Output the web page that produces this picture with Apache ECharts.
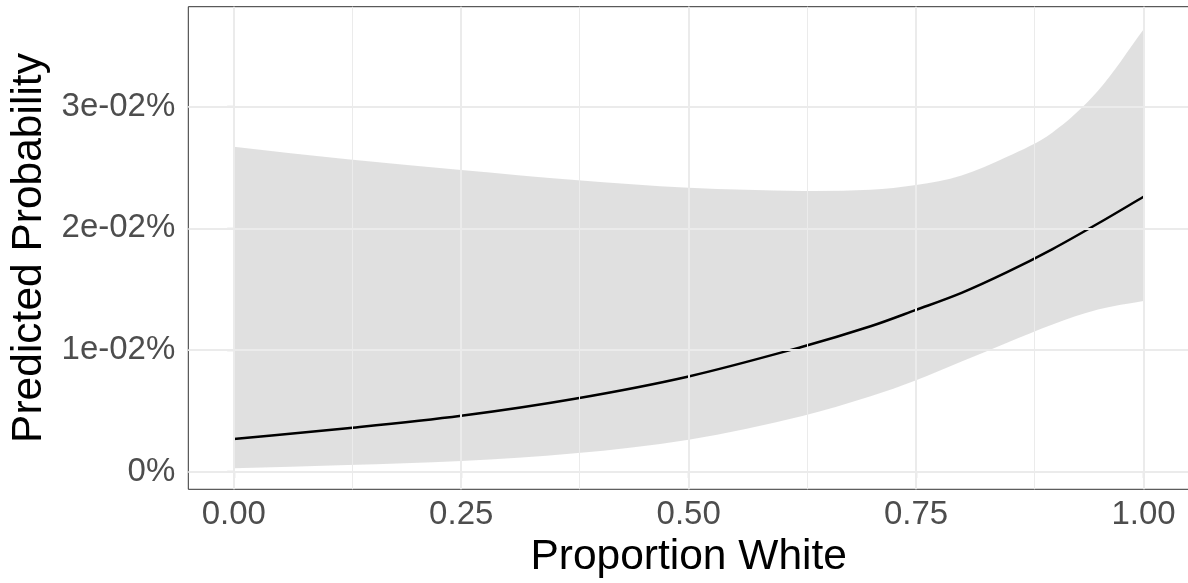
<!DOCTYPE html>
<html>
<head>
<meta charset="utf-8">
<script src="https://cdn.jsdelivr.net/npm/echarts@6/dist/echarts.min.js"></script>
<style>
  html, body { margin: 0; padding: 0; background: #fff; }
  #chart { width: 1188px; height: 583px; }
</style>
</head>
<body>
<div id="chart"></div>
<script>
// proportion white (x) and predicted probability in percent (y)
const propWhite = [0, 0.125, 0.25, 0.375, 0.5, 0.625, 0.7, 0.75, 0.8, 0.85, 0.9, 0.95, 1.0];
const predicted = [0.00269, 0.00357, 0.00460, 0.00600, 0.00783, 0.01027, 0.01195, 0.01330, 0.01470, 0.01640, 0.01830, 0.02040, 0.02260];
const lowerCI   = [0.00028, 0.00055, 0.00088, 0.00151, 0.00263, 0.00458, 0.00620, 0.00752, 0.00905, 0.01060, 0.01210, 0.01333, 0.01403];
const upperCI   = [0.02671, 0.02568, 0.02480, 0.02397, 0.02333, 0.02307, 0.02318, 0.02356, 0.02435, 0.02589, 0.02789, 0.03131, 0.03635];

const xBreaks = [0, 0.25, 0.5, 0.75, 1];
const xMinorBreaks = [0.125, 0.375, 0.625, 0.875];
const yBreaks = [0, 0.01, 0.02, 0.03];
const yMinorBreaks = [0.005, 0.015, 0.025, 0.035];

const fmtY = v => {
  if (Math.abs(v) < 1e-12) return '0%';
  const e = Math.floor(Math.log10(Math.abs(v)) + 1e-9);
  const m = Math.round(v / Math.pow(10, e));
  return m + 'e' + (e < 0 ? '-' : '+') + String(Math.abs(e)).padStart(2, '0') + '%';
};

const majorLine = { color: '#EBEBEB', width: 2, type: 'solid' };
const minorLine = { color: '#EBEBEB', width: 1, type: 'solid' };

const gridLines = [
  ...yMinorBreaks.map(v => ({ yAxis: v, lineStyle: minorLine })),
  ...xMinorBreaks.map(v => ({ xAxis: v, lineStyle: minorLine })),
  ...yBreaks.map(v => ({ yAxis: v, lineStyle: majorLine })),
  ...xBreaks.map(v => ({ xAxis: v, lineStyle: majorLine }))
];

// cubic hermite through pixel points (slopes from neighbours, in x)
const hermitePath = (pts, move) => {
  const n = pts.length;
  const slope = i => {
    const a = pts[Math.max(i - 1, 0)], b = pts[Math.min(i + 1, n - 1)];
    return (b[1] - a[1]) / (b[0] - a[0]);
  };
  let d = (move ? 'M' : 'L') + pts[0][0] + ',' + pts[0][1];
  for (let i = 0; i < n - 1; i++) {
    const p1 = pts[i], p2 = pts[i + 1];
    const h = (p2[0] - p1[0]) / 3;
    const c1 = [p1[0] + h, p1[1] + slope(i) * h];
    const c2 = [p2[0] - h, p2[1] - slope(i + 1) * h];
    d += `C${c1[0]},${c1[1]} ${c2[0]},${c2[1]} ${p2[0]},${p2[1]}`;
  }
  return d;
};

const renderRibbon = (params, api) => {
  if (params.dataIndex !== 0) return;
  const up = propWhite.map((x, i) => api.coord([x, upperCI[i]]));
  const lo = propWhite.map((x, i) => api.coord([x, lowerCI[i]])).reverse();
  return {
    type: 'path',
    shape: { pathData: hermitePath(up, true) + hermitePath(lo, false) + 'Z' },
    style: { fill: 'rgba(153,153,153,0.3)', stroke: null }
  };
};

const renderLine = (params, api) => {
  if (params.dataIndex !== 0) return;
  const pts = propWhite.map((x, i) => api.coord([x, predicted[i]]));
  return {
    type: 'path',
    shape: { pathData: hermitePath(pts, true) },
    style: { fill: null, stroke: '#000', lineWidth: 2.5, lineCap: 'butt', lineJoin: 'round' }
  };
};

const chart = echarts.init(document.getElementById('chart'), null, { renderer: 'canvas' });

chart.setOption({
  animation: false,
  textStyle: { fontFamily: 'Liberation Sans, Arial, sans-serif' },
  grid: {
    left: 188.3, top: 6.7, width: 1000.7, height: 482.6,
    containLabel: false, outerBoundsMode: 'none',
    show: true, borderColor: '#333333', borderWidth: 1, backgroundColor: 'transparent'
  },
  xAxis: {
    type: 'value',
    min: -0.05, max: 1.05,
    name: 'Proportion White',
    nameLocation: 'middle',
    nameGap: 43,
    nameTextStyle: { fontSize: 42.5, color: '#000' },
    axisLine: { show: false },
    axisTick: { show: true, length: 6.5, customValues: xBreaks, lineStyle: { color: '#333', width: 1.1 } },
    axisLabel: { customValues: xBreaks, fontSize: 33, color: '#4D4D4D', margin: 9, formatter: v => v.toFixed(2) },
    splitLine: { show: false }
  },
  yAxis: {
    type: 'value',
    min: -0.001447, max: 0.03822,
    name: 'Predicted Probability',
    nameLocation: 'middle',
    nameGap: 137,
    nameTextStyle: { fontSize: 42.5, color: '#000' },
    axisLine: { show: false },
    axisTick: { show: true, length: 6.5, customValues: yBreaks, lineStyle: { color: '#333', width: 1.1 } },
    axisLabel: { customValues: yBreaks, fontSize: 33, color: '#4D4D4D', margin: 13, formatter: fmtY },
    splitLine: { show: false }
  },
  series: [
    {
      name: 'grid',
      type: 'line',
      data: [],
      z: 1,
      silent: true,
      markLine: { silent: true, symbol: 'none', label: { show: false }, animation: false, data: gridLines }
    },
    {
      name: 'ribbon',
      type: 'custom',
      z: 2,
      silent: true,
      renderItem: renderRibbon,
      data: propWhite.map((x, i) => [x, lowerCI[i], upperCI[i]]),
      encode: { x: 0, y: [1, 2] }
    },
    {
      name: 'Predicted',
      type: 'custom',
      z: 3,
      silent: true,
      renderItem: renderLine,
      data: propWhite.map((x, i) => [x, predicted[i]]),
      encode: { x: 0, y: 1 }
    }
  ]
});
</script>
</body>
</html>
